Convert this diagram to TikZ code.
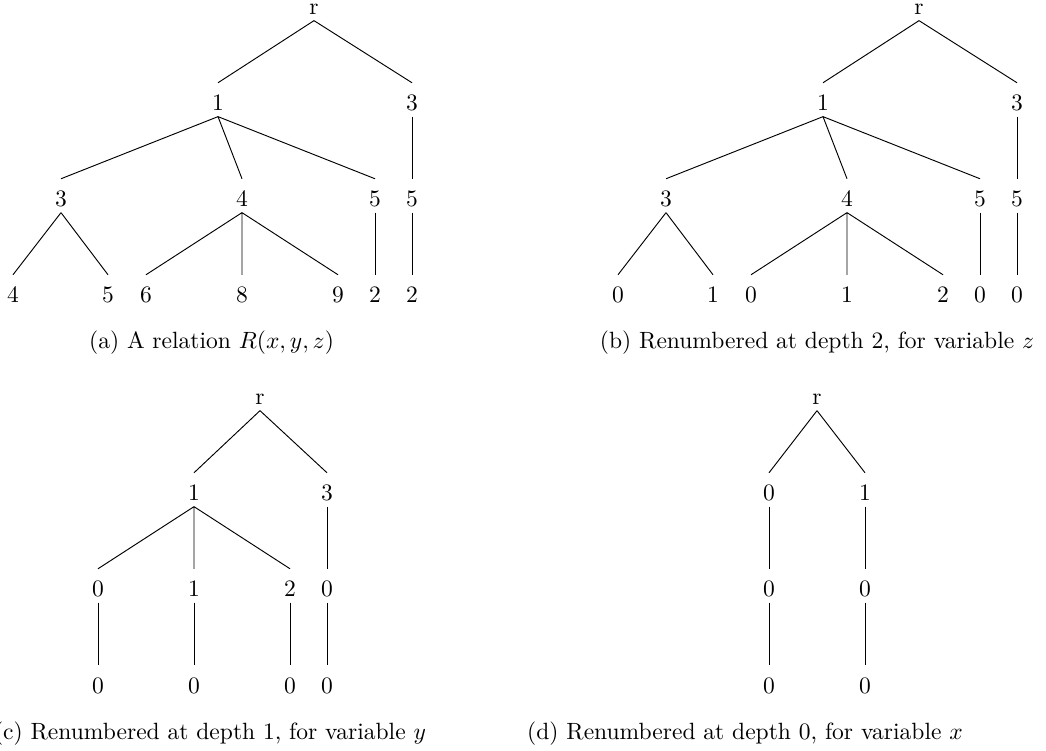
\documentclass[tikz,border=0pt]{standalone}
\usepackage{tikz}
\tikzstyle{val}    = [anchor=base, inner ysep=2.2pt, text height=9.6pt, text depth=0pt]
\tikzstyle{root}   = [val, text height=4.3pt]
\tikzstyle{edge}   = [thin]
\tikzstyle{subcap} = [anchor=base]

\begin{document}
\begin{tikzpicture}[x=0.425pt, y=-0.425pt]
  \useasboundingbox (0,0) rectangle (1046,751);

  % (a) The relation
  \node[root] (ar) at (314,15) {r};
  \node[val] (a1) at (218,111) {1};
  \node[val] (a2) at (412,111) {3};
  \node[val] (a11) at (61,207) {3};
  \node[val] (a12) at (242,207) {4};
  \node[val] (a13) at (375,207) {5};
  \node[val] (a21) at (412,207) {5};
  \node[val] (a111) at (13,303) {4};
  \node[val] (a112) at (108,303) {5};
  \node[val] (a121) at (146,303) {6};
  \node[val] (a122) at (242,303) {8};
  \node[val] (a123) at (338,303) {9};
  \node[val] (a131) at (375,303) {2};
  \node[val] (a211) at (412,303) {2};
  \node[subcap] (capa) at (211.5,349) {(a) A relation $R(x, y, z)$};

  \draw[edge] (ar.south) -- (a1.north) (ar.south) -- (a2.north);
  \draw[edge] (a1.south) -- (a11.north) (a1.south) -- (a12.north) (a1.south) -- (a13.north);
  \draw[edge] (a2.south) -- (a21.north);
  \draw[edge] (a11.south) -- (a111.north) (a11.south) -- (a112.north);
  \draw[edge] (a12.south) -- (a121.north) (a12.south) -- (a122.north) (a12.south) -- (a123.north);
  \draw[edge] (a13.south) -- (a131.north);
  \draw[edge] (a21.south) -- (a211.north);

  % (b) Depth 2
  \node[root] (br) at (919,15) {r};
  \node[val] (b1) at (823,111) {1};
  \node[val] (b2) at (1017,111) {3};
  \node[val] (b11) at (666,207) {3};
  \node[val] (b12) at (847,207) {4};
  \node[val] (b13) at (980,207) {5};
  \node[val] (b21) at (1017,207) {5};
  \node[val] (b111) at (618,303) {0};
  \node[val] (b112) at (713,303) {1};
  \node[val] (b121) at (751,303) {0};
  \node[val] (b122) at (847,303) {1};
  \node[val] (b123) at (943,303) {2};
  \node[val] (b131) at (980,303) {0};
  \node[val] (b211) at (1017,303) {0};
  \node[subcap] (capb) at (817,349) {(b) Renumbered at depth 2, for variable $z$};

  \draw[edge] (br.south) -- (b1.north) (br.south) -- (b2.north);
  \draw[edge] (b1.south) -- (b11.north) (b1.south) -- (b12.north) (b1.south) -- (b13.north);
  \draw[edge] (b2.south) -- (b21.north);
  \draw[edge] (b11.south) -- (b111.north) (b11.south) -- (b112.north);
  \draw[edge] (b12.south) -- (b121.north) (b12.south) -- (b122.north) (b12.south) -- (b123.north);
  \draw[edge] (b13.south) -- (b131.north);
  \draw[edge] (b21.south) -- (b211.north);

  % (c) Depth 1
  \node[root] (cr) at (260,405) {r};
  \node[val] (c1) at (194,501) {1};
  \node[val] (c2) at (327,501) {3};
  \node[val] (c11) at (98,597) {0};
  \node[val] (c12) at (194,597) {1};
  \node[val] (c13) at (290,597) {2};
  \node[val] (c21) at (327,597) {0};
  \node[val] (c111) at (98,693) {0};
  \node[val] (c121) at (194,693) {0};
  \node[val] (c131) at (290,693) {0};
  \node[val] (c211) at (327,693) {0};
  \node[subcap] (capc) at (210,739) {(c) Renumbered at depth 1, for variable $y$};

  \draw[edge] (cr.south) -- (c1.north) (cr.south) -- (c2.north);
  \draw[edge] (c1.south) -- (c11.north) (c1.south) -- (c12.north) (c1.south) -- (c13.north);
  \draw[edge] (c2.south) -- (c21.north);
  \draw[edge] (c11.south) -- (c111.north);
  \draw[edge] (c12.south) -- (c121.north);
  \draw[edge] (c13.south) -- (c131.north);
  \draw[edge] (c21.south) -- (c211.north);

  % (d) Depth 0
  \node[root] (dr) at (817,405) {r};
  \node[val] (d1) at (769,501) {0};
  \node[val] (d2) at (865,501) {1};
  \node[val] (d11) at (769,597) {0};
  \node[val] (d21) at (865,597) {0};
  \node[val] (d111) at (769,693) {0};
  \node[val] (d211) at (865,693) {0};
  \node[subcap] (capd) at (745,739) {(d) Renumbered at depth 0, for variable $x$};

  \draw[edge] (dr.south) -- (d1.north) (dr.south) -- (d2.north);
  \draw[edge] (d1.south) -- (d11.north) (d2.south) -- (d21.north);
  \draw[edge] (d11.south) -- (d111.north) (d21.south) -- (d211.north);
\end{tikzpicture}
\end{document}
